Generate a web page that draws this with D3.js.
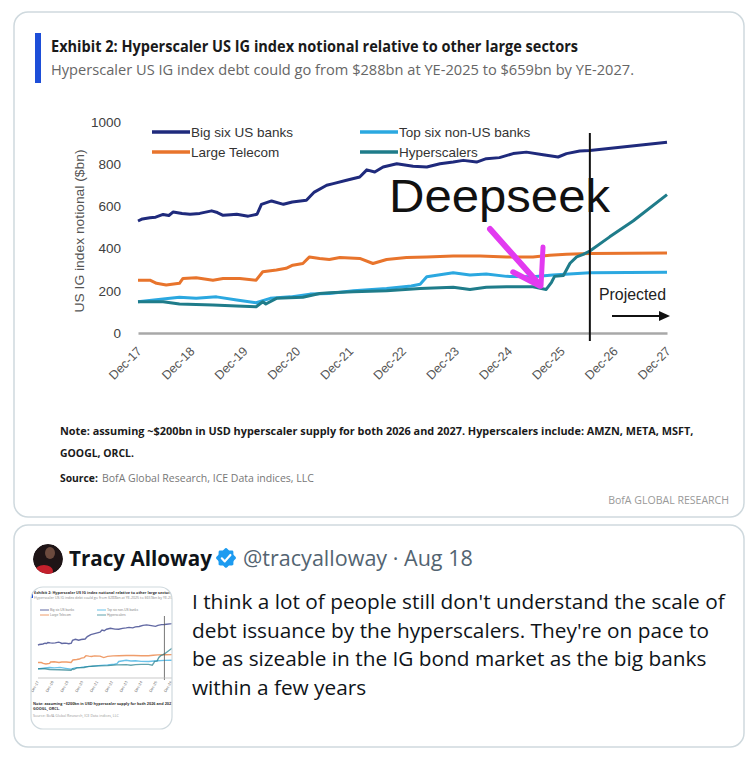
<!DOCTYPE html>
<html><head><meta charset="utf-8">
<script src="https://cdn.jsdelivr.net/npm/d3@7/dist/d3.min.js"></script>
<style>body{margin:0;background:#fff}</style>
</head><body>
<svg id="c" width="750" height="761"></svg>
<script>
// ---------- data ----------
const tickLabels = ["Dec-17","Dec-18","Dec-19","Dec-20","Dec-21","Dec-22","Dec-23","Dec-24","Dec-25","Dec-26","Dec-27"];
const tickMonths = [0,12,24,36,48,60,72,84,96,108,120]; // months since Dec-17
const yTicks = [0,200,400,600,800,1000];
const seriesNames = ["Big six US banks","Large Telecom","Top six non-US banks","Hyperscalers"];
const seriesColors = ["#1f2a7c","#e8742c","#2ba8e0","#1f7c8a"];
const projectionStartMonth = 102.5;

// [month index, $bn]
const bigSixUS = [[0,530],[1,540],[2.7,545],[4,548],[5.7,561],[7,556],[8,573],[10,566],[11.8,562],[14,566],[16.7,578],[18,570],[19.3,557],[21,560],[22.4,562],[25,553],[27,562],[28,609],[30.3,625],[33,609],[35,620],[38.2,628],[40,667],[42.8,699],[44.3,707],[47.3,723],[50.3,738],[51.9,772],[53.7,762],[55.6,786],[58.7,801],[62.4,789],[65.5,786],[68.5,801],[71.5,809],[73.8,817],[76.8,809],[79,825],[82,830],[85.1,849],[88.1,856],[91.9,844],[95.3,833],[97.2,849],[100.2,861],[102.5,864],[120,903]];
const largeTelecom = [[0,250],[2.7,250],[4.2,235],[6.4,227],[9.4,235],[10.2,258],[13.2,261],[17,250],[19.3,258],[23.1,258],[26.8,250],[28.3,290],[31.4,298],[33.6,306],[35.1,321],[37.4,329],[38.9,360],[41.2,353],[43.4,348],[45.8,357],[50.3,353],[53.3,329],[56.4,348],[60.9,357],[65.5,360],[71.5,364],[77.6,364],[83.6,360],[89.6,360],[93.4,368],[97.2,373],[102.5,376],[120,379]];
const topSixNonUS = [[0,148],[5.7,161],[9.4,169],[13.2,164],[17.8,171],[22.4,156],[26.8,143],[30,164],[34.6,171],[39,184],[43.4,187],[48.9,200],[56.4,211],[62,222],[64,231],[65.5,266],[71.5,285],[75.3,274],[79,279],[83.6,268],[89.6,266],[94.1,274],[102.5,285],[120,287]];
const hyperscalers = [[0,148],[5.7,148],[9.4,137],[17,132],[22.4,128],[26.8,124],[28.3,148],[29,137],[31.4,164],[37.4,169],[41.2,187],[43.4,190],[48.9,195],[56.4,200],[64,211],[71.5,216],[75.3,206],[79,216],[83.6,219],[89.6,219],[92.6,206],[93.8,240],[94.5,268],[96.5,272],[98,330],[99.5,360],[101,372],[102.5,388],[107,455],[112.3,530],[120,655]];
const allSeries = [bigSixUS, largeTelecom, topSixNonUS, hyperscalers];

const titleText = "Exhibit 2: Hyperscaler US IG index notional relative to other large sectors";
const subtitleText = "Hyperscaler US IG index debt could go from $288bn at YE-2025 to $659bn by YE-2027.";
const noteLines = ["Note: assuming ~$200bn in USD hyperscaler supply for both 2026 and 2027. Hyperscalers include: AMZN, META, MSFT,","GOOGL, ORCL."];
const tweetLines = ["I think a lot of people still don't understand the scale of","debt issuance by the hyperscalers. They're on pace to","be as sizeable in the IG bond market as the big banks","within a few years"];

// ---------- drawing ----------
const svg = d3.select("#c");
const SANS = "'Liberation Sans', Arial, sans-serif";
const NARROW = "'Liberation Sans Narrow', 'Open Sans', sans-serif";
const TW = "'Open Sans', 'Noto Sans', sans-serif";

function fit(sel, width){
  const fs = parseFloat(sel.attr("font-size"));
  sel.attr("font-size", fs*width/sel.node().getComputedTextLength());
  return sel;
}

svg.append("rect").attr("width",750).attr("height",761).attr("fill","#fff");

// cards
svg.append("rect").attr("x",14).attr("y",12).attr("width",730).attr("height",505).attr("rx",14)
  .attr("fill","#fff").attr("stroke","#cfd9de").attr("stroke-width",1.5);
svg.append("rect").attr("x",14).attr("y",525).attr("width",730).attr("height",222).attr("rx",14)
  .attr("fill","#fff").attr("stroke","#cfd9de").attr("stroke-width",1.5);

// title block
svg.append("rect").attr("x",35).attr("y",33).attr("width",6).attr("height",50).attr("fill","#1d4ed8");
svg.append("text").attr("x",51).attr("y",52).attr("font-family",NARROW).attr("font-weight","bold")
  .attr("font-size",15.5).attr("fill","#1a1a1a").attr("textLength",527).attr("lengthAdjust","spacingAndGlyphs").text(titleText);
svg.append("text").attr("x",51).attr("y",75).attr("font-family",NARROW)
  .attr("font-size",15).attr("fill","#666").attr("textLength",583).attr("lengthAdjust","spacingAndGlyphs").text(subtitleText);

// scales
const x = d3.scaleLinear().domain([0,120]).range([138,667]);
const y = d3.scaleLinear().domain([0,1000]).range([333,121.7]);

// y axis
const yAx = svg.append("g").attr("transform","translate(138,0)")
  .call(d3.axisLeft(y).tickValues(yTicks).tickSize(0).tickPadding(17).tickFormat(d3.format("d")));
yAx.select(".domain").remove();
yAx.selectAll("text").attr("font-family",SANS).attr("font-size",13.5).attr("fill","#404040");

svg.append("text").attr("transform","translate(84,231) rotate(-90)").attr("text-anchor","middle")
  .attr("font-family",SANS).attr("font-size",13).attr("fill","#555")
  .attr("textLength",163).attr("lengthAdjust","spacingAndGlyphs").text("US IG index notional ($bn)");

// x axis
const xAx = svg.append("g").attr("transform","translate(0,333)")
  .call(d3.axisBottom(x).tickValues(tickMonths).tickSize(0).tickFormat((d,i)=>tickLabels[i]));
xAx.select(".domain").attr("stroke","#a8a8a8").attr("stroke-width",2.5);
xAx.selectAll("text").attr("font-family",SANS).attr("font-size",12.5).attr("fill","#555")
  .attr("text-anchor","end").attr("dy",0).attr("y",0)
  .attr("transform","translate(4,19) rotate(-45)");

// lines
const line = d3.line().x(d=>x(d[0])).y(d=>y(d[1]));
allSeries.forEach((s,i)=>{
  svg.append("path").datum(s).attr("d",line).attr("fill","none")
    .attr("stroke",seriesColors[i]).attr("stroke-width",3).attr("stroke-linejoin","round");
});

// legend
const legendPos = [[152,132],[152,152],[360,132],[360,152]];
seriesNames.forEach((n,i)=>{
  const [lx,ly] = legendPos[i];
  svg.append("line").attr("x1",lx).attr("x2",lx+38).attr("y1",ly).attr("y2",ly)
    .attr("stroke",seriesColors[i]).attr("stroke-width",3.5);
  svg.append("text").attr("x",lx+39).attr("y",ly+5).attr("font-family",SANS).attr("font-size",13.5)
    .attr("fill","#333").text(n);
});

// projection marker
svg.append("line").attr("x1",x(projectionStartMonth)).attr("x2",x(projectionStartMonth)).attr("y1",133).attr("y2",341)
  .attr("stroke","#111").attr("stroke-width",2);
svg.append("text").attr("x",599).attr("y",300).attr("font-family",SANS).attr("font-size",16).attr("fill","#222")
  .attr("textLength",67).attr("lengthAdjust","spacingAndGlyphs").text("Projected");
svg.append("line").attr("x1",612).attr("x2",661).attr("y1",316).attr("y2",316).attr("stroke","#111").attr("stroke-width",2.2);
svg.append("path").attr("d","M659,311 L670,316 L659,321 Z").attr("fill","#111");

// Deepseek annotation
svg.append("text").attr("x",389).attr("y",212).attr("font-family","'Liberation Sans', Arial, sans-serif")
  .attr("font-size",46).attr("fill","#111").attr("textLength",221).attr("lengthAdjust","spacingAndGlyphs").text("Deepseek");
const mag = "#e23af0";
svg.append("path").attr("d","M490,229 L539,284").attr("stroke",mag).attr("stroke-width",6).attr("stroke-linecap","round").attr("fill","none");
svg.append("path").attr("d","M543,247 L541,286").attr("stroke",mag).attr("stroke-width",5).attr("stroke-linecap","round").attr("fill","none");
svg.append("path").attr("d","M513,272 L540,286").attr("stroke",mag).attr("stroke-width",5.5).attr("stroke-linecap","round").attr("fill","none");

// notes
fit(svg.append("text").attr("x",60).attr("y",435).attr("font-family",NARROW).attr("font-weight","bold")
  .attr("font-size",12).attr("fill","#1a1a1a").text(noteLines[0]), 634);
fit(svg.append("text").attr("x",60).attr("y",457).attr("font-family",NARROW).attr("font-weight","bold")
  .attr("font-size",12).attr("fill","#1a1a1a").text(noteLines[1]), 74);
fit(svg.append("text").attr("x",60).attr("y",482).attr("font-family",NARROW).attr("font-weight","bold")
  .attr("font-size",12).attr("fill","#1a1a1a").text("Source:"), 38);
fit(svg.append("text").attr("x",102).attr("y",482).attr("font-family",NARROW)
  .attr("font-size",12).attr("fill","#777").text("BofA Global Research, ICE Data indices, LLC"), 212);
fit(svg.append("text").attr("x",729).attr("y",504).attr("text-anchor","end").attr("font-family",NARROW)
  .attr("font-size",11.5).attr("fill","#999").text("BofA GLOBAL RESEARCH"), 121);

// ---------- tweet ----------
// avatar
svg.append("clipPath").attr("id","avc").append("circle").attr("cx",48).attr("cy",559).attr("r",15);
const av = svg.append("g").attr("clip-path","url(#avc)");
av.append("circle").attr("cx",48).attr("cy",559).attr("r",15).attr("fill","#1e1416");
av.append("ellipse").attr("cx",44).attr("cy",571).attr("rx",9).attr("ry",6).attr("fill","#c4202c");
av.append("ellipse").attr("cx",50).attr("cy",553).attr("rx",5).attr("ry",6).attr("fill","#6b4a3e");

fit(svg.append("text").attr("x",69).attr("y",566).attr("font-family",TW).attr("font-weight","bold")
  .attr("font-size",19).attr("fill","#0f1419").text("Tracy Alloway"), 143);
// badge
const bx=226, by=558;
const badge = d3.range(16).map(i=>{const a=i*Math.PI/8; const r = i%2?8.2:10; return [bx+r*Math.cos(a), by+r*Math.sin(a)];});
svg.append("path").attr("d",d3.line().curve(d3.curveCardinalClosed)(badge)).attr("fill","#1d9bf0");
svg.append("path").attr("d",`M${bx-4.2},${by+0.3} L${bx-1.2},${by+3.4} L${bx+4.4},${by-3}`).attr("fill","none")
  .attr("stroke","#fff").attr("stroke-width",2.2).attr("stroke-linecap","round").attr("stroke-linejoin","round");
fit(svg.append("text").attr("x",243).attr("y",566).attr("font-family",TW)
  .attr("font-size",19).attr("fill","#536471").text("@tracyalloway · Aug 18"), 230);

// tweet text
const tl = tweetLines.map((t,i)=>svg.append("text").attr("x",192).attr("y",609+i*28.6).attr("font-family",TW)
  .attr("font-size",19).attr("fill","#0f1419").text(t));
const k = 533/tl[0].node().getComputedTextLength();
tl.forEach(e=>e.attr("font-size",19*k));

// thumbnail
svg.append("clipPath").attr("id","thc").append("rect").attr("x",31).attr("y",587).attr("width",141).attr("height",142).attr("rx",12);
const th = svg.append("g").attr("clip-path","url(#thc)");
th.append("rect").attr("x",31).attr("y",587).attr("width",141).attr("height",142).attr("fill","#fff");
th.append("rect").attr("x",31).attr("y",590).attr("width",2).attr("height",8).attr("fill","#1d4ed8");
th.append("text").attr("x",34).attr("y",594).attr("font-family",NARROW).attr("font-weight","bold").attr("font-size",3.8).attr("fill","#333").text(titleText);
th.append("text").attr("x",34).attr("y",599).attr("font-family",NARROW).attr("font-size",3.6).attr("fill","#888").text(subtitleText);
const tx = d3.scaleLinear().domain([0,120]).range([38,186]);
const ty = d3.scaleLinear().domain([0,1000]).range([678,616]);
const tline = d3.line().x(d=>tx(d[0])).y(d=>ty(d[1]));
allSeries.forEach((s,i)=>{
  th.append("path").datum(s).attr("d",tline).attr("fill","none").attr("stroke",seriesColors[i]).attr("stroke-width",1.4).attr("opacity",0.7);
});
const tlp = [[40,610],[40,615],[97,610],[97,615]];
seriesNames.forEach((n,i)=>{
  th.append("line").attr("x1",tlp[i][0]).attr("x2",tlp[i][0]+9).attr("y1",tlp[i][1]).attr("y2",tlp[i][1]).attr("stroke",seriesColors[i]).attr("stroke-width",1).attr("opacity",0.7);
  th.append("text").attr("x",tlp[i][0]+10).attr("y",tlp[i][1]+1).attr("font-family",SANS).attr("font-size",3.2).attr("fill","#888").text(n);
});
th.append("line").attr("x1",tx(projectionStartMonth)).attr("x2",tx(projectionStartMonth)).attr("y1",616).attr("y2",680).attr("stroke","#555").attr("stroke-width",0.8);
th.append("line").attr("x1",38).attr("x2",186).attr("y1",678).attr("y2",678).attr("stroke","#bbb").attr("stroke-width",0.8);
tickMonths.forEach((m,i)=>{
  th.append("text").attr("transform",`translate(${tx(m)+1},682) rotate(-60)`).attr("text-anchor","end")
    .attr("font-family",SANS).attr("font-size",3.8).attr("fill","#666").text(tickLabels[i]);
});
th.append("text").attr("x",33).attr("y",705).attr("font-family",NARROW).attr("font-weight","bold").attr("font-size",3.8).attr("fill","#333").text(noteLines[0]);
th.append("text").attr("x",33).attr("y",710).attr("font-family",NARROW).attr("font-weight","bold").attr("font-size",3.8).attr("fill","#333").text(noteLines[1]);
th.append("text").attr("x",33).attr("y",717).attr("font-family",NARROW).attr("font-size",3.6).attr("fill","#999").text("Source: BofA Global Research, ICE Data indices, LLC");
svg.append("rect").attr("x",31).attr("y",587).attr("width",141).attr("height",142).attr("rx",12).attr("fill","none").attr("stroke","#cfd9de").attr("stroke-width",1.2);
</script>
</body></html>
